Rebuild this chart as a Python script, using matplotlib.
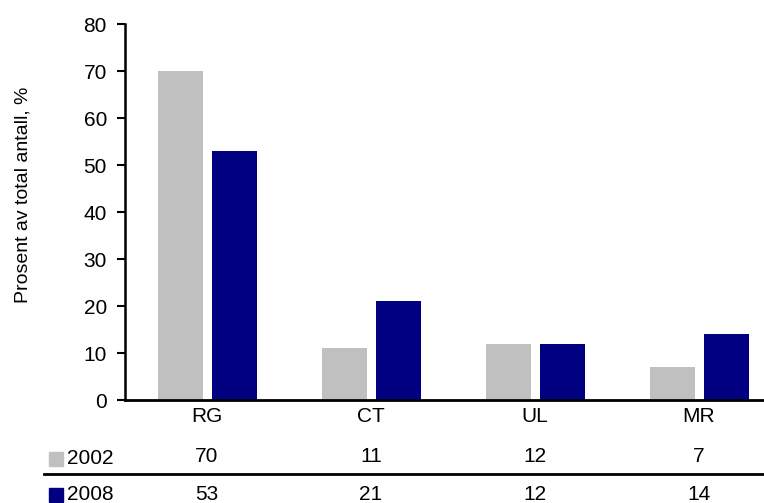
import matplotlib.pyplot as plt
import matplotlib.transforms as mtransforms
from matplotlib.patches import Rectangle
from matplotlib.lines import Line2D
import numpy as np

plt.rcParams['font.family'] = ['Liberation Sans', 'DejaVu Sans']

categories = ['RG', 'CT', 'UL', 'MR']
years = ['2002', '2008']
values_2002 = [70, 11, 12, 7]
values_2008 = [53, 21, 12, 14]
colors = ['#C0C0C0', '#000080']

W, H = 764, 503
FS = 15
fig = plt.figure(figsize=(W / 100, H / 100), dpi=100)

# axes in pixel terms: left 125, bottom 400, top 24.5, right runs past the edge
left, right, top, bottom = 125, 781, 24.5, 400
ax = fig.add_axes([left / W, 1 - bottom / H, (right - left) / W, (bottom - top) / H])

x = np.arange(len(categories))
width = 0.275
ax.bar(x - 0.163, values_2002, width, color=colors[0])
ax.bar(x + 0.167, values_2008, width, color=colors[1])

ax.set_xlim(-0.5, len(categories) - 0.5)
ax.set_ylim(0, 80)
ax.set_yticks(range(0, 81, 10))
ax.set_xticks([])
ax.tick_params(axis='y', direction='out', length=6, width=1.5, labelsize=FS, pad=7)
for s in ['top', 'right']:
    ax.spines[s].set_visible(False)
ax.spines['left'].set_linewidth(1.8)
ax.spines['bottom'].set_linewidth(2)
ax.set_ylabel('Prosent av total antall, %', fontsize=14)
ax.yaxis.set_label_coords(-0.142, 0.546)

# data table under the plot
trans = mtransforms.blended_transform_factory(ax.transData, fig.transFigure)
def fy(py):
    return 1 - py / H

for i, cat in enumerate(categories):
    ax.text(i, fy(417), cat, transform=trans, ha='center', va='center', fontsize=FS)
    ax.text(i, fy(457), str(values_2002[i]), transform=trans, ha='center', va='center', fontsize=FS)
    ax.text(i, fy(494), str(values_2008[i]), transform=trans, ha='center', va='center', fontsize=FS)

fig.add_artist(Line2D([44 / W, 1], [fy(474), fy(474)], color='black', lw=2))

for yr, col, py in zip(years, colors, [459, 495]):
    fig.add_artist(Rectangle((49 / W, fy(py + 7)), 14 / W, 14 / H, color=col))
    fig.text(67 / W, fy(py), yr, ha='left', va='center', fontsize=FS)

fig.savefig('out.png', dpi=100)
